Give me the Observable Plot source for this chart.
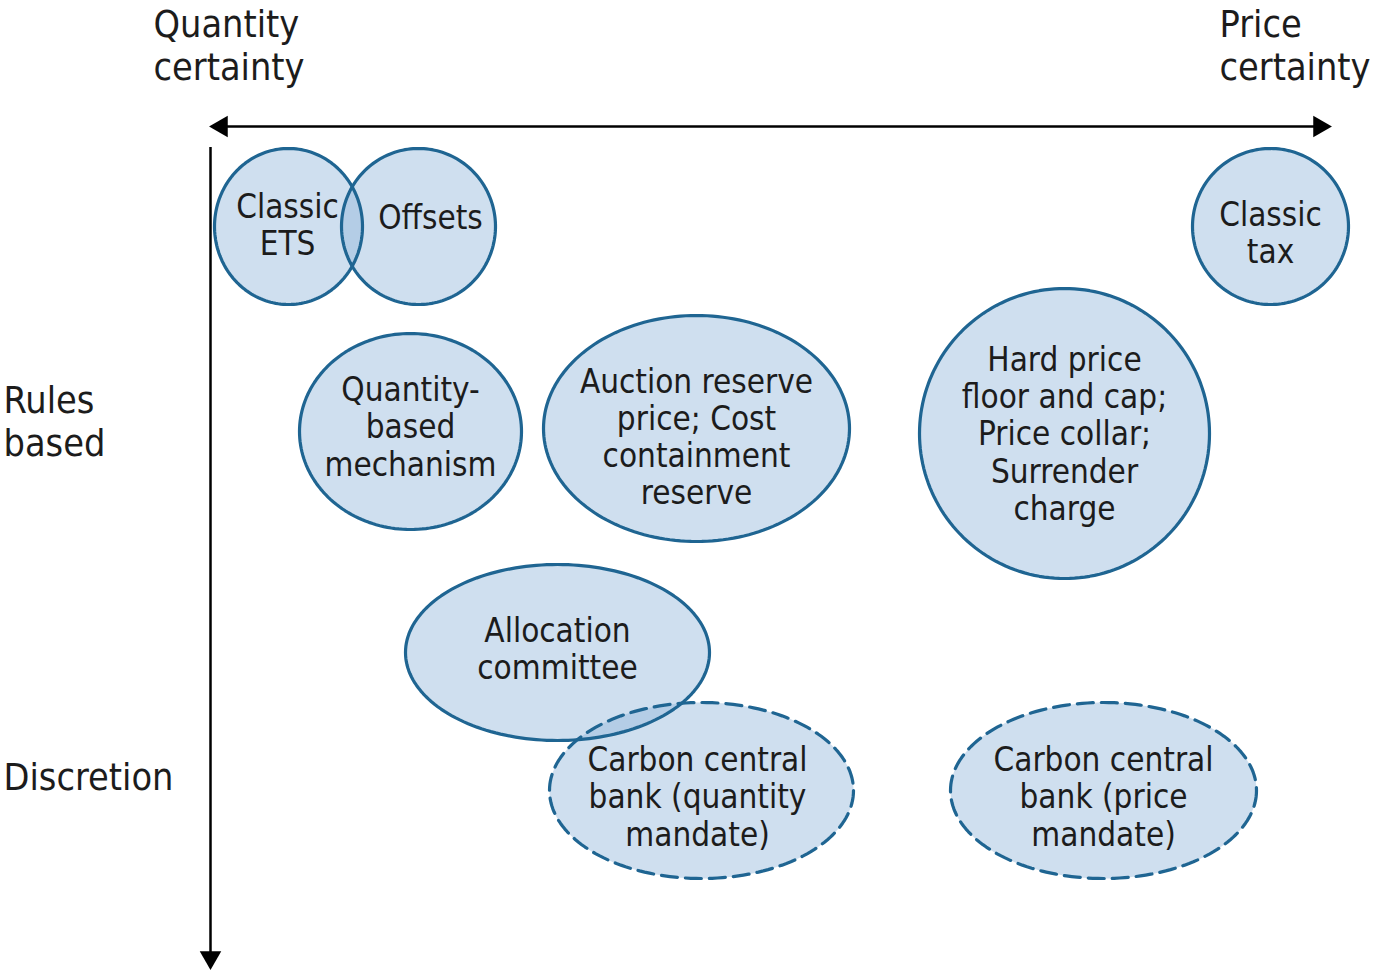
<!DOCTYPE html>
<html>
<head>
<meta charset="utf-8">
<script src="https://cdn.jsdelivr.net/npm/d3@7"></script>
<script src="https://cdn.jsdelivr.net/npm/@observablehq/plot@0.6"></script>
<style>
  html, body { margin: 0; padding: 0; background: #fff; }
  #chart svg { display: block; }
</style>
</head>
<body>
<div id="chart"></div>
<script>
// Instrument bubbles: name, label, centre (cx, cy), radii (rx, ry), solid/dashed
const names   = ["Classic ETS", "Offsets", "Classic tax", "Quantity-based mechanism",
                 "Auction reserve price; Cost containment reserve",
                 "Hard price floor and cap; Price collar; Surrender charge",
                 "Allocation committee",
                 "Carbon central bank (quantity mandate)",
                 "Carbon central bank (price mandate)"];
const labels  = ["Classic\nETS", "Offsets", "Classic\ntax", "Quantity-\nbased\nmechanism",
                 "Auction reserve\nprice; Cost\ncontainment\nreserve",
                 "Hard price\nfloor and cap;\nPrice collar;\nSurrender\ncharge",
                 "Allocation\ncommittee",
                 "Carbon central\nbank (quantity\nmandate)",
                 "Carbon central\nbank (price\nmandate)"];
const cx      = [288, 418, 1270, 410, 696, 1064, 557, 701, 1103];
const cy      = [226, 226, 226, 431, 428, 433, 652, 790, 790];
const rx      = [74, 77, 78, 111, 153, 145, 152, 152, 153];
const ry      = [78, 78, 78, 98, 113, 145, 88, 88, 88];
const labelX  = [287, 430, 1270, 410, 696, 1064, 557, 697, 1103];
const labelY  = [224, 217, 232, 426, 436, 433, 648, 796, 796];
const dashed  = [false, false, false, false, false, false, false, true, true];

// Axis annotations
const axisLabels = ["Quantity\ncertainty", "Price\ncertainty", "Rules\nbased", "Discretion"];
const axisLabelX = [153, 1219, 3, 3];
const axisLabelY = [44, 44, 420, 775];

const W = 1377, H = 971;

const bubbles = names.map((n, i) => ({
  name: n, label: labels[i], cx: cx[i], cy: cy[i], rx: rx[i], ry: ry[i],
  lx: labelX[i], ly: labelY[i], dashed: dashed[i]
}));

// ellipse outlines (geometry derived from centre and radii)
const N = 180;
const outline = bubbles.flatMap(b =>
  d3.range(N).map(k => {
    const t = (k / N) * 2 * Math.PI;
    return { name: b.name, dashed: b.dashed, x: b.cx + b.rx * Math.cos(t), y: b.cy + b.ry * Math.sin(t) };
  })
);

const axes = axisLabels.map((t, i) => ({ text: t, x: axisLabelX[i], y: axisLabelY[i] }));

const font = "'Liberation Sans Narrow', 'DejaVu Sans Condensed', 'Arial Narrow', sans-serif";
const stroke = "#1f6592";
const ink = "#1c1c1c";

const chart = Plot.plot({
  width: W, height: H,
  margin: 0,
  x: { domain: [0, W], range: [0, W], axis: null },
  y: { domain: [0, H], range: [0, H], axis: null },
  style: { fontFamily: font, background: "#fff" },
  marks: [
    // fills
    Plot.line(outline, { x: "x", y: "y", z: "name", curve: "linear-closed",
      fill: "#8fb4db", fillOpacity: 0.43, stroke: "none" }),
    // solid outlines
    Plot.line(outline.filter(d => !d.dashed), { x: "x", y: "y", z: "name", curve: "linear-closed",
      fill: "none", stroke, strokeWidth: 3.2 }),
    // dashed outlines
    Plot.line(outline.filter(d => d.dashed), { x: "x", y: "y", z: "name", curve: "linear-closed",
      fill: "none", stroke, strokeWidth: 3.2, strokeDasharray: "16,8" }),
    // horizontal axis line + arrowheads
    Plot.ruleY([126], { x1: 222, x2: 1318, stroke: "#000", strokeWidth: 2.5 }),
    Plot.dot([{ x: 210, y: 126, rot: -90 }, { x: 1330, y: 126, rot: 90 }], {
      x: d => d.rot < 0 ? d.x + 11 : d.x - 11, y: "y", symbol: "triangle", r: 8, rotate: "rot",
      fill: "#000", stroke: "none" }),
    // vertical axis line + arrowhead
    Plot.ruleX([210], { y1: 147, y2: 958, stroke: "#000", strokeWidth: 2.5 }),
    Plot.dot([{ x: 210, y: 968 }], { x: "x", y: d => d.y - 11, symbol: "triangle", r: 8, rotate: 180,
      fill: "#000", stroke: "none" }),
    // bubble labels
    Plot.text(bubbles, { x: "lx", y: "ly", text: "label", fontSize: 33, lineHeight: 1.13,
      fill: ink, textAnchor: "middle", fontFamily: font }),
    // axis labels
    Plot.text(axes, { x: "x", y: "y", text: "text", fontSize: 37.5, lineHeight: 1.17,
      fill: ink, textAnchor: "start", fontFamily: font })
  ]
});

document.getElementById("chart").appendChild(chart);
</script>
</body>
</html>
